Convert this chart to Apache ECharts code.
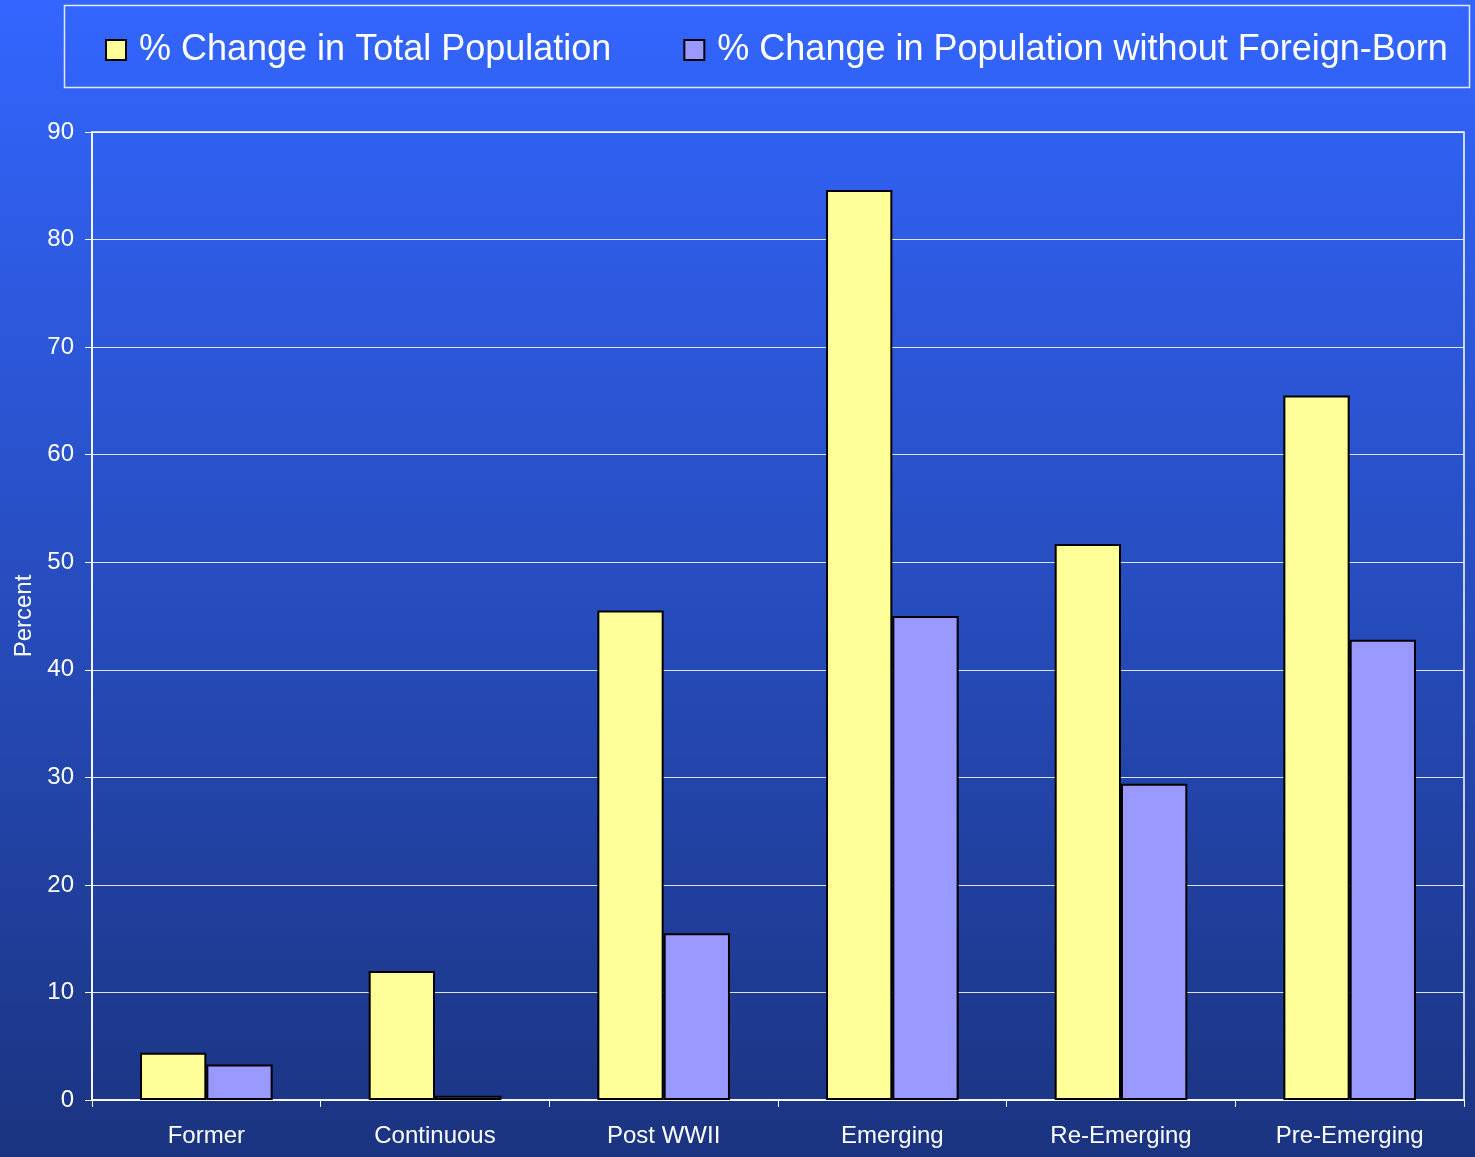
<!DOCTYPE html>
<html>
<head>
<meta charset="utf-8">
<style>
  html, body { margin: 0; padding: 0; }
  #chart { width: 1475px; height: 1157px; }
</style>
<script src="https://cdn.jsdelivr.net/npm/echarts@6/dist/echarts.min.js"></script>
</head>
<body>
<div id="chart"></div>
<script>
const categories = ['Former', 'Continuous', 'Post WWII', 'Emerging', 'Re-Emerging', 'Pre-Emerging']
const totalPopulation = [4.4, 12.0, 45.5, 84.6, 51.7, 65.5]
const withoutForeignBorn = [3.3, 0.4, 15.5, 45.0, 29.4, 42.8]
const seriesNames = ['% Change in Total Population', '% Change in Population without Foreign-Born']

const chart = echarts.init(document.getElementById('chart'))
const font = 'Liberation Sans, Arial, sans-serif'

chart.setOption({
  backgroundColor: {
    type: 'linear', x: 0, y: 0, x2: 0, y2: 1,
    colorStops: [
      { offset: 0, color: '#3366ff' },
      { offset: 1, color: '#1b3480' }
    ]
  },
  textStyle: { fontFamily: font },
  graphic: [{
    type: 'rect',
    shape: { x: 64.5, y: 5.5, width: 1405, height: 82 },
    style: { fill: 'none', stroke: 'rgba(255,255,255,0.85)', lineWidth: 1.5 },
    silent: true
  }],
  legend: {
    data: seriesNames,
    icon: 'rect',
    left: 100,
    top: 27,
    itemWidth: 20,
    itemHeight: 20,
    itemGap: 72,
    textStyle: { color: '#fff', fontSize: 36, fontFamily: font, padding: [0, 0, 0, 8] }
  },
  grid: {
    left: 92,
    right: 11,
    top: 132,
    bottom: 57,
    show: true,
    borderColor: '#fff',
    borderWidth: 1.5
  },
  xAxis: {
    type: 'category',
    data: categories,
    axisLine: { lineStyle: { color: '#fff', width: 1.5 } },
    axisTick: { show: true, length: 7, lineStyle: { color: '#fff' } },
    axisLabel: { color: '#fff', fontSize: 24, margin: 24, fontFamily: font }
  },
  yAxis: {
    type: 'value',
    min: 0,
    max: 90,
    interval: 10,
    name: 'Percent',
    nameLocation: 'middle',
    nameRotate: 90,
    nameGap: 55,
    nameTextStyle: { color: '#fff', fontSize: 24, fontFamily: font },
    axisLine: { show: true, lineStyle: { color: '#fff', width: 1.5 } },
    axisTick: { show: true, length: 7, lineStyle: { color: '#fff' } },
    axisLabel: { color: '#fff', fontSize: 24, margin: 18, fontFamily: font },
    splitLine: { lineStyle: { color: 'rgba(255,255,255,0.85)', width: 1 } }
  },
  series: [{
    name: seriesNames[0],
    type: 'bar',
    data: totalPopulation,
    barGap: '0%',
    barCategoryGap: '42%',
    itemStyle: { color: '#ffff99', borderColor: '#000', borderWidth: 2 }
  }, {
    name: seriesNames[1],
    type: 'bar',
    data: withoutForeignBorn,
    itemStyle: { color: '#9999ff', borderColor: '#000', borderWidth: 2 }
  }]
})
</script>
</body>
</html>
